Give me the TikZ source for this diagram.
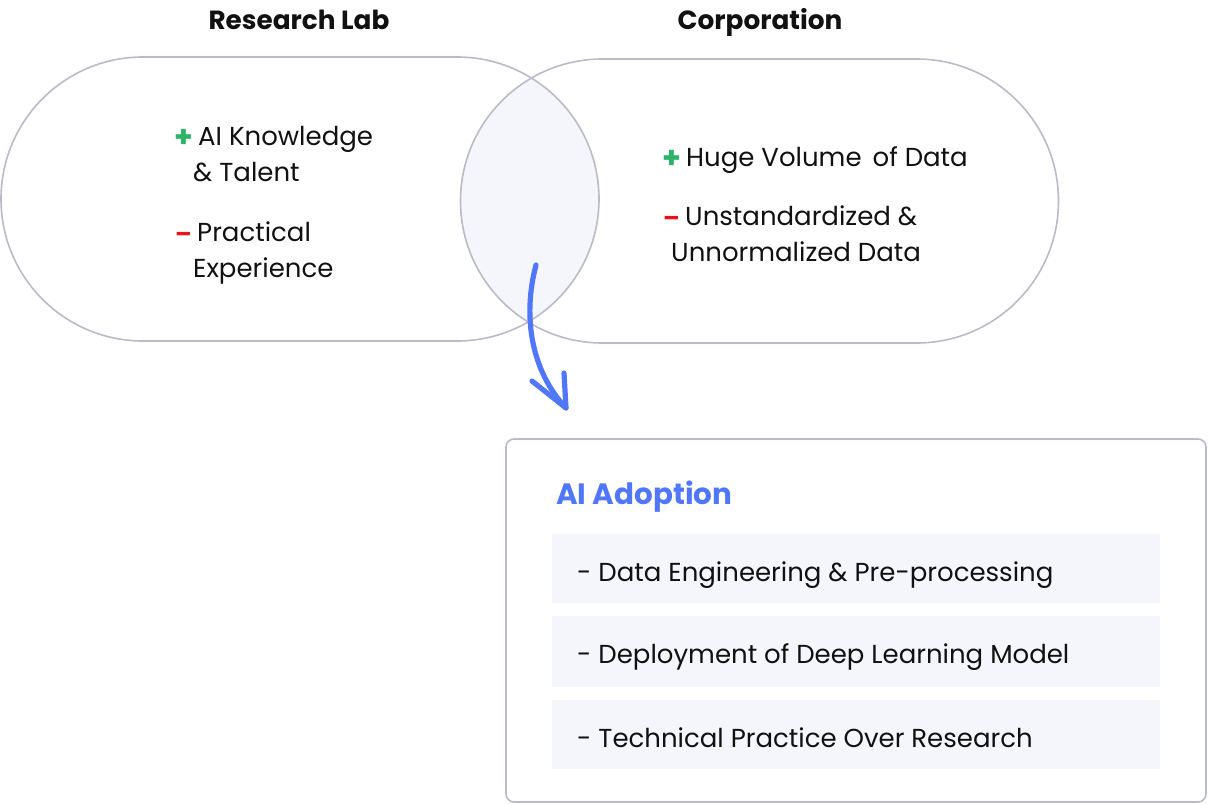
\documentclass[tikz,border=0pt]{standalone}
\usepackage{fontspec}
\setmainfont{Poppins}
\definecolor{edge}{HTML}{B9BBC7}
\definecolor{soft}{HTML}{F5F6FB}
\definecolor{accent}{HTML}{4F77F7}
\definecolor{plusc}{HTML}{2DB36A}
\definecolor{minusc}{HTML}{E8141A}
\definecolor{ink}{HTML}{111111}
\begin{document}
\begin{tikzpicture}[x=1pt,y=-1pt,
  stadium/.style={draw=edge,line width=1.6pt,rounded corners=142pt,minimum width=598pt,minimum height=284pt,inner sep=0pt},
  card/.style={draw=edge,line width=1.6pt,rounded corners=8pt,inner sep=0pt},
  bar/.style={fill=soft,inner sep=0pt,minimum width=608pt},
  txt/.style={inner sep=0pt,anchor=base west,text=ink,font=\fontsize{26}{30}\selectfont},
  head/.style={inner sep=0pt,anchor=base,text=ink,font=\fontsize{26.3}{30}\selectfont\bfseries},
  sign/.style={inner sep=0pt,anchor=base west,font=\fontsize{30}{34}\selectfont\bfseries},
  msign/.style={inner sep=0pt,anchor=base west,font=\fontsize{24}{28}\selectfont\bfseries},
  arr/.style={draw=accent,line width=5.2pt,line cap=round,line join=round}]
\useasboundingbox (0,0) rectangle (1208,804);
% lens fill
\begin{scope}
  \clip (457,199) circle (142);
  \fill[soft] (602,201) circle (142);
\end{scope}
\node[stadium] (lab) at (300,199) {};
\node[stadium] (corp) at (759.5,201) {};
\node[head] (labh) at (299,29) {Research Lab};
\node[head] (corph) at (760,29) {Corporation};
% left texts
\node[sign,text=plusc] (lp) at (174,147) {+};
\node[txt] (l1) at (198,145) {AI Knowledge};
\node[txt] (l2) at (193,181) {\& Talent};
\node[msign,text=minusc] (lm) at (175,242) {–};
\node[txt] (l3) at (197,241) {Practical};
\node[txt] (l4) at (193,277) {Experience};
% right texts
\node[sign,text=plusc] (rp) at (662,168) {+};
\node[txt] (r1) at (686,166) {Huge Volume\hspace{11pt}of Data};
\node[msign,text=minusc] (rm) at (663,226) {–};
\node[txt] (r2) at (685,225) {Unstandardized \&};
\node[txt] (r3) at (671,261) {Unnormalized Data};
% arrow
\coordinate (as) at (536,265);
\coordinate (tip) at (566,408);
\coordinate (barbL) at (532,381);
\coordinate (barbR) at (564,373);
\draw[arr] (as) .. controls (522,318) and (532,372) .. (tip);
\draw[arr] (barbL) -- (tip) -- (barbR);
% adoption card
\node[card,minimum width=700pt,minimum height=363pt] (box) at (856,620.5) {};
\node[inner sep=0pt,anchor=base west,text=accent,font=\fontsize{29.4}{33}\selectfont\bfseries] (title) at (556,504) {AI Adoption};
\node[bar,minimum height=69pt] (b1) at (856,568.5) {};
\node[bar,minimum height=71pt] (b2) at (856,651.5) {};
\node[bar,minimum height=69pt] (b3) at (856,734.5) {};
\node[txt] (t1) at (577,581) {- Data Engineering \& Pre-processing};
\node[txt] (t2) at (577,663) {- Deployment of Deep Learning Model};
\node[txt] (t3) at (577,747) {- Technical Practice Over Research};
\end{tikzpicture}
\end{document}
